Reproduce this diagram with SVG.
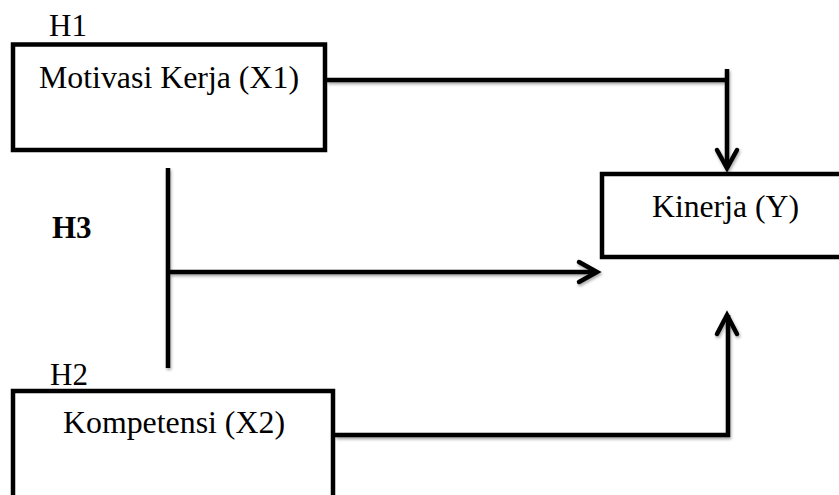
<svg xmlns="http://www.w3.org/2000/svg" width="839" height="495" viewBox="0 0 839 495">
<defs>
<style>
.box{fill:#fff;stroke:#000;stroke-width:4.5}
.t{font-family:"Liberation Serif","Times New Roman",serif;font-size:31px;fill:#000}
.b{font-weight:bold}
.ln{fill:none;stroke:#000;stroke-width:4.5}
.hd{fill:none;stroke:#000;stroke-width:4.5;stroke-linecap:round;stroke-linejoin:miter}
</style>
<filter id="sh" x="-5%" y="-5%" width="110%" height="110%">
<feDropShadow dx="1" dy="2" stdDeviation="1.5" flood-color="#000" flood-opacity="0.35"/>
</filter>
</defs>
<rect width="839" height="495" fill="#fff"/>
<g id="node-x1">
<rect class="box" x="13" y="44.5" width="312" height="105.5"/>
<text class="t" x="169" y="88" text-anchor="middle" textLength="260" lengthAdjust="spacingAndGlyphs">Motivasi Kerja (X1)</text>
<text class="t" x="49" y="36">H1</text>
</g>
<g id="node-y">
<rect class="box" x="602" y="174" width="260" height="83"/>
<text class="t" x="725.5" y="217" text-anchor="middle" textLength="147" lengthAdjust="spacingAndGlyphs">Kinerja (Y)</text>
</g>
<g id="node-x2">
<rect class="box" x="13" y="391" width="320" height="130"/>
<text class="t" x="174" y="433" text-anchor="middle" textLength="222" lengthAdjust="spacingAndGlyphs">Kompetensi (X2)</text>
<text class="t" x="50" y="385">H2</text>
</g>
<g id="label-h3">
<text class="t b" x="52" y="238">H3</text>
</g>
<g id="connectors" filter="url(#sh)">
<polyline class="ln" points="327,80 727,80"/>
<line class="ln" x1="727" y1="69" x2="727" y2="168"/>
<polyline class="hd" points="717,150 727,168 737,150"/>
<line class="ln" x1="168" y1="168" x2="168" y2="368"/>
<line class="ln" x1="168" y1="272" x2="596" y2="272"/>
<polyline class="hd" points="579,262 597,272 579,282"/>
<polyline class="ln" points="335,435 728,435 728,315"/>
<polyline class="hd" points="717,334 727,315 737,334"/>
</g>
</svg>
